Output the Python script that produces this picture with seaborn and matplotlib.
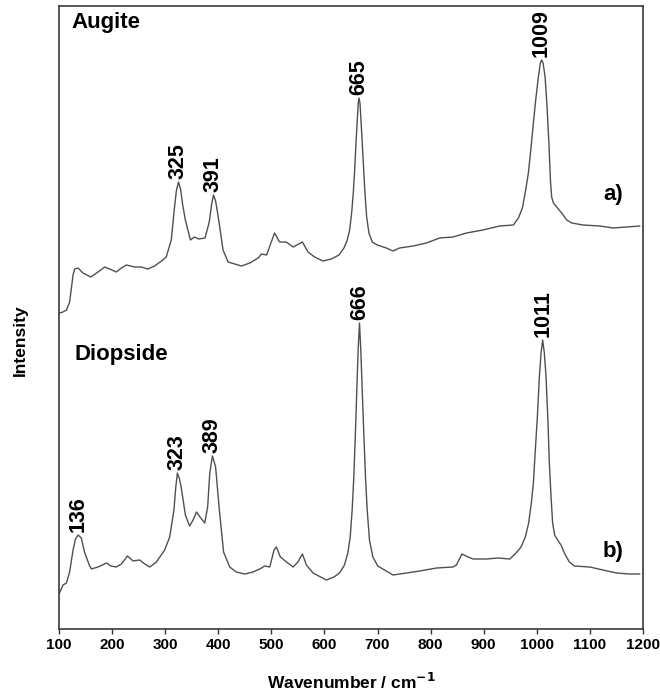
import matplotlib
matplotlib.use("Agg")
import matplotlib.pyplot as plt
import numpy as np
import pandas as pd
import seaborn as sns

# Raman spectra (wavenumber in cm-1, intensity in arbitrary units)
augite_wn = [101, 107.5, 114, 120, 126.5, 129.5, 136, 145, 160, 173.5, 186, 195.5,
             208, 217.5, 227, 242.5, 255, 267.5, 280, 293, 302, 311.5, 317, 321,
             325, 329, 333, 338, 347.5, 355, 363, 375, 383, 387.5, 391, 395, 400,
             409, 418.5, 431, 443.5, 459.5, 475, 481.5, 491, 506, 515.5, 528, 541,
             558.5, 569, 581.5, 597, 613, 627.3, 636.7, 643, 647.5, 651.2, 654.3,
             656.9, 659.4, 661.8, 663.7, 665, 666.9, 668.8, 671.2, 673.9, 676.3,
             679.5, 683.8, 690, 699.5, 716.5, 729, 741.5, 767, 792, 817, 842,
             867.5, 898.5, 930, 955.9, 965.3, 972.8, 979, 984.1, 989.2, 993.5,
             997.9, 1002.9, 1006.7, 1009, 1011.8, 1015.6, 1019.3, 1023.1, 1025.6,
             1028, 1031.2, 1037.4, 1046.9, 1056.3, 1065.7, 1087, 1118.5, 1143.5,
             1169, 1194]
augite_int = [316, 317, 319, 327, 354, 360, 361, 356, 352, 357, 362, 360,
              357, 361, 364, 362, 362, 360, 363, 368, 372, 389, 419, 438,
              447, 440, 424, 409, 389, 392, 390, 391, 407, 425, 434, 428, 412,
              379, 367, 365, 363, 366, 371, 375, 374, 396, 387, 387, 382,
              387, 377, 372, 368, 370, 374, 381, 389, 399, 416, 436,
              459, 486, 509, 526, 531, 526, 509, 486, 459, 436,
              412, 396, 387, 384, 381, 378, 381, 383, 386, 391, 392,
              396, 399, 403, 404, 411, 421, 439, 456, 482, 506,
              529, 552, 566, 569, 566, 552, 522, 482, 449,
              432, 426, 422, 416, 409, 406, 404, 403, 401,
              402, 403]

diopside_wn = [101, 107.5, 114, 120, 126.5, 131, 136, 142, 148, 157, 161, 173.5,
               189.5, 197.5, 208, 217.5, 229, 239.5, 252, 261.5, 271, 283.5, 299,
               308.5, 316.5, 320, 323, 327, 331, 338, 346, 352.5, 359, 367, 374.5,
               380, 384, 389, 395, 402, 410, 421.5, 434, 450, 465.5, 478, 487.5,
               497, 505, 509.5, 517, 528.5, 541, 550, 558.5, 566, 578.5, 603.5,
               618, 628.3, 637.7, 644, 648.5, 652.2, 655.3, 658.5, 660.9, 663.5,
               666, 668.5, 671.1, 674.1, 677.3, 680.5, 684.8, 691.1, 700.5, 729,
               754.5, 779.5, 811, 842, 848.5, 859, 870.5, 880, 905, 927, 949,
               960.9, 970.3, 978.4, 984.6, 989.7, 993.5, 997.2, 1001, 1004.8, 1008,
               1011, 1014.2, 1017.4, 1021.1, 1023.6, 1026.8, 1029.8, 1033.6, 1039.2,
               1045.6, 1051.9, 1061.3, 1070.7, 1099.5, 1124.5, 1150, 1175, 1194]
diopside_int = [36, 44, 46, 57, 79, 90, 94, 91, 77, 64, 60, 62,
                66, 63, 62, 65, 73, 68, 69, 65, 62, 67, 79,
                92, 119, 142, 156, 150, 139, 114, 103, 109, 117, 111, 106,
                122, 156, 173, 162, 119, 77, 62, 57, 55, 57, 60, 63,
                62, 79, 82, 72, 67, 62, 67, 75, 64, 56, 49,
                52, 56, 64, 76, 92, 119, 152, 199, 239, 279,
                306, 279, 239, 196, 152, 119, 89, 72, 63, 54,
                56, 58, 61, 62, 64, 75, 72, 70, 70, 71, 70,
                76, 82, 92, 106, 126, 146, 179, 212, 252, 276,
                289, 276, 252, 206, 166, 132, 106, 94, 89,
                84, 76, 67, 63, 62, 59, 56, 55, 55]

augite_peaks = [325, 391, 665, 1009]
diopside_peaks = [136, 323, 389, 666, 1011]

x_ticks = list(range(100, 1300, 100))

sns.set_theme(style="white")
plt.rcParams["font.family"] = ["Liberation Sans", "DejaVu Sans"]
plt.rcParams["text.color"] = "black"
plt.rcParams["axes.labelcolor"] = "black"
plt.rcParams["xtick.color"] = "black"

fig = plt.figure(figsize=(6.6, 6.94), dpi=100)
ax = fig.add_axes([59 / 660, 1 - 629 / 694, 584 / 660, 623 / 694])

spectra = pd.concat([
    pd.DataFrame({"wavenumber": augite_wn, "intensity": augite_int, "sample": "Augite"}),
    pd.DataFrame({"wavenumber": diopside_wn, "intensity": diopside_int, "sample": "Diopside"}),
])
line_color = "#505050"
sns.lineplot(data=spectra, x="wavenumber", y="intensity", hue="sample",
             palette={"Augite": line_color, "Diopside": line_color},
             estimator=None, linewidth=1.0, legend=False, ax=ax)

# Peak position labels above each band maximum
for wn_list, int_list, peaks in [(augite_wn, augite_int, augite_peaks),
                                 (diopside_wn, diopside_int, diopside_peaks)]:
    lookup = dict(zip(wn_list, int_list))
    for p in peaks:
        ax.annotate(str(p), xy=(p, lookup[p]), xytext=(0, 2),
                    textcoords="offset points", rotation=90,
                    ha="center", va="bottom", fontsize=15.5,
                    fontweight="bold", color="black")

ax.text(0.022, 0.964, "Augite", transform=ax.transAxes, fontsize=16,
        fontweight="bold", ha="left", va="baseline", color="black")
ax.text(0.026, 0.432, "Diopside", transform=ax.transAxes, fontsize=16,
        fontweight="bold", ha="left", va="baseline", color="black")
ax.text(0.949, 0.689, "a)", transform=ax.transAxes, fontsize=16,
        fontweight="bold", ha="center", va="baseline", color="black")
ax.text(0.949, 0.116, "b)", transform=ax.transAxes, fontsize=16,
        fontweight="bold", ha="center", va="baseline", color="black")

ax.set_xlim(100, 1200)
ax.set_ylim(0, 623)
ax.set_xticks(x_ticks)
ax.set_xticklabels([str(t) for t in x_ticks], fontsize=11, fontweight="bold",
                   color="black")
ax.set_yticks([])
ax.tick_params(axis="x", direction="out", length=3.5, width=1.0,
               color="#333333", pad=3, bottom=True)
ax.set_xlabel("Wavenumber / cm$^{\\mathbf{-1}}$", fontsize=12.5,
              fontweight="bold", labelpad=14, color="black")
ax.set_ylabel("Intensity", fontsize=12.5, fontweight="bold", color="black")
ax.yaxis.set_label_coords(-0.053, 0.464)

for side in ["left", "right", "top", "bottom"]:
    ax.spines[side].set_visible(True)
    ax.spines[side].set_color("#3a3a3a")
    ax.spines[side].set_linewidth(1.2)

fig.savefig("out.png", dpi=100, facecolor="white")
